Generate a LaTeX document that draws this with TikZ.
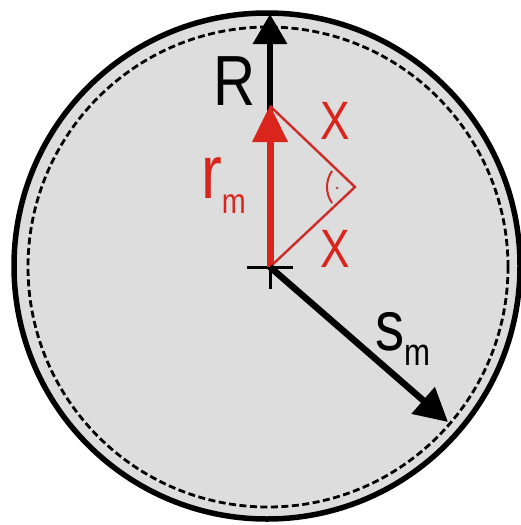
\documentclass[tikz,border=0pt]{standalone}
\usepackage{fontspec}
\setmainfont{Liberation Sans}
\usetikzlibrary{arrows.meta,calc}
\definecolor{fillgray}{RGB}{221,221,221}
\definecolor{myred}{RGB}{218,37,29}
\definecolor{trired}{RGB}{205,45,38}
\tikzset{
  ring/.style={circle, draw=black, inner sep=0pt},
  blackarrow/.style={line width=6.5pt, -{Triangle[length=30pt,width=33pt]}},
  redarrow/.style={myred, line width=7pt, -{Triangle[length=37pt,width=34pt]}},
  triline/.style={trired, line width=2.4pt, line join=miter},
  lab/.style={inner sep=0pt, xscale=0.82},
}
\begin{document}
\begin{tikzpicture}[x=1pt,y=-1pt]
\useasboundingbox (0,0) rectangle (521,525);
\fill[white] (0,0) rectangle (521,525);
% circles
\node[ring, line width=5.5pt, fill=fillgray, minimum size=506pt] (outer) at (267,266) {};
\node[ring, line width=2.8pt, dash pattern=on 7pt off 3.5pt, minimum size=480pt] (inner) at (268,267) {};
% points
\coordinate (O) at (270,267);
\coordinate (T) at (270,14);
\coordinate (Rt) at (270,105);
\coordinate (A) at (270,106);
\coordinate (B) at (355,187);
\coordinate (S) at (448,422);
\coordinate (CL) at (247,267);
\coordinate (CR) at (293,267);
\coordinate (CD) at (270,289);
% cross
\draw[line width=3pt] (CL) -- (CR);
\draw[line width=3pt] (O) -- (CD);
% R arrow
\draw[blackarrow] (O) -- (T);
% triangle
\draw[triline] (A) -- (B) -- (O);
\draw[trired, line width=2pt] ([shift={(145:28)}]B) arc[start angle=145, end angle=215, radius=28];
\node[circle, fill=trired!60!gray, inner sep=0pt, minimum size=3pt] (dot) at (337,188) {};
% red arrow
\draw[redarrow] (O) -- (Rt);
% s arrow
\draw[blackarrow, -{Triangle[length=33pt,width=34pt]}] (O) -- (S);
% labels
\node[lab, anchor=center, font=\fontsize{71}{71}\selectfont] (lR) at (234.5,81.5) {R};
\node[lab, anchor=center, text=myred, font=\fontsize{54}{54}\selectfont] (lX1) at (335,120.5) {X};
\node[lab, anchor=center, text=myred, font=\fontsize{54}{54}\selectfont] (lX2) at (335,249) {X};
\node[lab, anchor=base west, text=myred, font=\fontsize{76}{76}\selectfont] (lr) at (201,198) {r\raisebox{-15pt}{\fontsize{35}{35}\selectfont m}};
\node[lab, anchor=base west, font=\fontsize{71}{71}\selectfont] (ls) at (375,350) {s\raisebox{-15pt}{\fontsize{38}{38}\selectfont m}};
\end{tikzpicture}
\end{document}
